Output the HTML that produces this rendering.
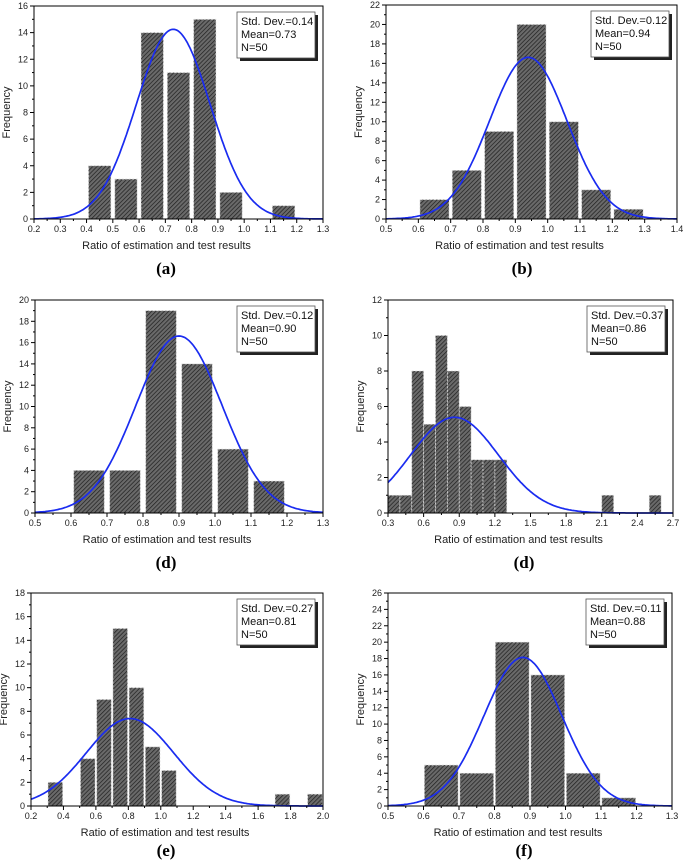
<!DOCTYPE html>
<html><head><meta charset="utf-8">
<style>
html,body{margin:0;padding:0;background:#fff;}
svg{display:block;font-family:"Liberation Sans",Arial,sans-serif;}
</style></head>
<body>
<svg id="fig" width="685" height="863" viewBox="0 0 685 863" xmlns="http://www.w3.org/2000/svg">
<defs>
<pattern id="hatch" patternUnits="userSpaceOnUse" width="3" height="3" patternTransform="rotate(45)">
<rect width="3" height="3" fill="#6a6a6a"/>
<line x1="0" y1="0" x2="0" y2="3" stroke="#1e1e1e" stroke-width="1.4"/>
</pattern>
</defs>
</svg>
<script>
// Panel (a)
const aCenters=[0.45,0.55,0.65,0.75,0.85,0.95,1.15];
const aCounts=[4,3,14,11,15,2,1];
const aStats=[0.14,0.73,50];
// Panel (b)
const bCenters=[0.65,0.75,0.85,0.95,1.05,1.15,1.25];
const bCounts=[2,5,9,20,10,3,1];
const bStats=[0.12,0.94,50];
// Panel (d) left
const cCenters=[0.65,0.75,0.85,0.95,1.05,1.15];
const cCounts=[4,4,19,14,6,3];
const cStats=[0.12,0.90,50];
// Panel (d) right
const dCenters=[0.35,0.45,0.55,0.65,0.75,0.85,0.95,1.05,1.15,1.25,2.15,2.55];
const dCounts=[1,1,8,5,10,8,6,3,3,3,1,1];
const dStats=[0.37,0.86,50];
// Panel (e)
const eCenters=[0.35,0.55,0.65,0.75,0.85,0.95,1.05,1.75,1.95];
const eCounts=[2,4,9,15,10,5,3,1,1];
const eStats=[0.27,0.81,50];
// Panel (f)
const fCenters=[0.65,0.75,0.85,0.95,1.05,1.15];
const fCounts=[5,4,20,16,4,1];
const fStats=[0.11,0.88,50];

const NS="http://www.w3.org/2000/svg";
const svg=document.getElementById('fig');
function el(tag,attrs,parent,text){const e=document.createElementNS(NS,tag);for(const k in attrs)e.setAttribute(k,attrs[k]);if(text!==undefined)e.textContent=text;(parent||svg).appendChild(e);return e;}

function panel(cfg){
  const g=el('g',{});
  
  
  const {L,R,T,B,xmin,xmax,xstep,ymax,ystep,centers,counts,stats,binw,barw}=cfg;
  const X=v=>L+(v-xmin)/(xmax-xmin)*(R-L);
  const Y=v=>B-v/ymax*(B-T);
  // bars
  for(let i=0;i<centers.length;i++){
    const x0=X(centers[i]-barw/2),x1=X(centers[i]+barw/2);
    const r=el('rect',{x:x0,y:Y(counts[i]),width:x1-x0,height:B-Y(counts[i]),fill:'url(#hatch)',stroke:'#ddd','stroke-width':0.8,'stroke-dasharray':'2,1.5'},g);
    
    
  }
  // curve
  const [sd,mean,n]=stats;
  let d='';
  for(let k=0;k<=200;k++){const v=xmin+(xmax-xmin)*k/200;const f=n*binw/(sd*Math.sqrt(2*Math.PI))*Math.exp(-0.5*((v-mean)/sd)**2);d+=(k?'L':'M')+X(v).toFixed(1)+','+Y(f).toFixed(1);}
  const c=el('path',{d:d,fill:'none',stroke:'#1a2cf0','stroke-width':1.7},g);
  
  
  // frame
  const fr=el('rect',{x:L,y:T,width:R-L,height:B-T,fill:'none',stroke:'#000','stroke-width':1},g);
  
  
  // x ticks
  const nx=Math.round((xmax-xmin)/xstep);
  for(let i=0;i<=nx;i++){
    const v=xmin+i*xstep,x=X(v);
    el('line',{x1:x,y1:B,x2:x,y2:B+4,stroke:'#000'},g);
    if(i<nx)el('line',{x1:X(v+xstep/2),y1:B,x2:X(v+xstep/2),y2:B+2,stroke:'#000'},g);
    const t=el('text',{x:x,y:B+13,'font-size':9,'text-anchor':'middle',fill:'#222'},g,v.toFixed(1));
    
    
  }
  const ny=Math.round(ymax/ystep);
  for(let i=0;i<=ny;i++){
    const v=i*ystep,y=Y(v);
    el('line',{x1:L-4,y1:y,x2:L,y2:y,stroke:'#000'},g);
    if(i<ny)el('line',{x1:L-2,y1:Y(v+ystep/2),x2:L,y2:Y(v+ystep/2),stroke:'#000'},g);
    const t=el('text',{x:L-6,y:y+3,'font-size':9,'text-anchor':'end',fill:'#222'},g,String(v));
    
    
  }
  const xt=el('text',{x:(L+R)/2-12,y:B+30,'font-size':11,'text-anchor':'middle',fill:'#222'},g,'Ratio of estimation and test results');
  
  
  const yt=el('text',{x:0,y:0,'font-size':11,'text-anchor':'middle',fill:'#222',transform:`translate(${L-24},${(T+B)/2}) rotate(-90)`},g,'Frequency');
  
  
  // legend box
  const bx=R-86,by=T+6;
  el('rect',{x:bx+3,y:by+3,width:78,height:46,fill:'#222'},g);
  const lb=el('rect',{x:bx,y:by,width:78,height:46,fill:'#fff',stroke:'#555','stroke-width':0.8},g);
  
  
  const lines=['Std. Dev.='+sd.toFixed(2),'Mean='+mean.toFixed(2),'N='+n];
  lines.forEach((s,i)=>{const t=el('text',{x:bx+4,y:by+13+i*13,'font-size':11,fill:'#111'},g,s);
    
    });
  const cap=el('text',{x:cfg.capx,y:cfg.capy,'font-size':17,'font-weight':'bold','text-anchor':'middle','font-family':'Liberation Serif,serif',fill:'#000'},g,cfg.cap);
  
  
}

panel({id:'a',L:34,R:323,T:6,B:219,xmin:0.2,xmax:1.3,xstep:0.1,ymax:16,ystep:2,centers:aCenters,counts:aCounts,stats:aStats,binw:0.1,barw:0.085,cap:'(a)',capx:166,capy:274});
panel({id:'b',L:386,R:677,T:5,B:219,xmin:0.5,xmax:1.4,xstep:0.1,ymax:22,ystep:2,centers:bCenters,counts:bCounts,stats:bStats,binw:0.1,barw:0.09,cap:'(b)',capx:522,capy:274});
panel({id:'d-left',L:35,R:323,T:300,B:513,xmin:0.5,xmax:1.3,xstep:0.1,ymax:20,ystep:2,centers:cCenters,counts:cCounts,stats:cStats,binw:0.1,barw:0.085,cap:'(d)',capx:166,capy:568});
panel({id:'d-right',L:388,R:673,T:300,B:513,xmin:0.3,xmax:2.7,xstep:0.3,ymax:12,ystep:2,centers:dCenters,counts:dCounts,stats:dStats,binw:0.1,barw:0.1,cap:'(d)',capx:524,capy:568});
panel({id:'e',L:31,R:323,T:593,B:806,xmin:0.2,xmax:2.0,xstep:0.2,ymax:18,ystep:2,centers:eCenters,counts:eCounts,stats:eStats,binw:0.1,barw:0.09,cap:'(e)',capx:166,capy:856});
panel({id:'f',L:388,R:672,T:593,B:806,xmin:0.5,xmax:1.3,xstep:0.1,ymax:26,ystep:2,centers:fCenters,counts:fCounts,stats:fStats,binw:0.1,barw:0.095,cap:'(f)',capx:524,capy:856});
</script>
</body></html>
